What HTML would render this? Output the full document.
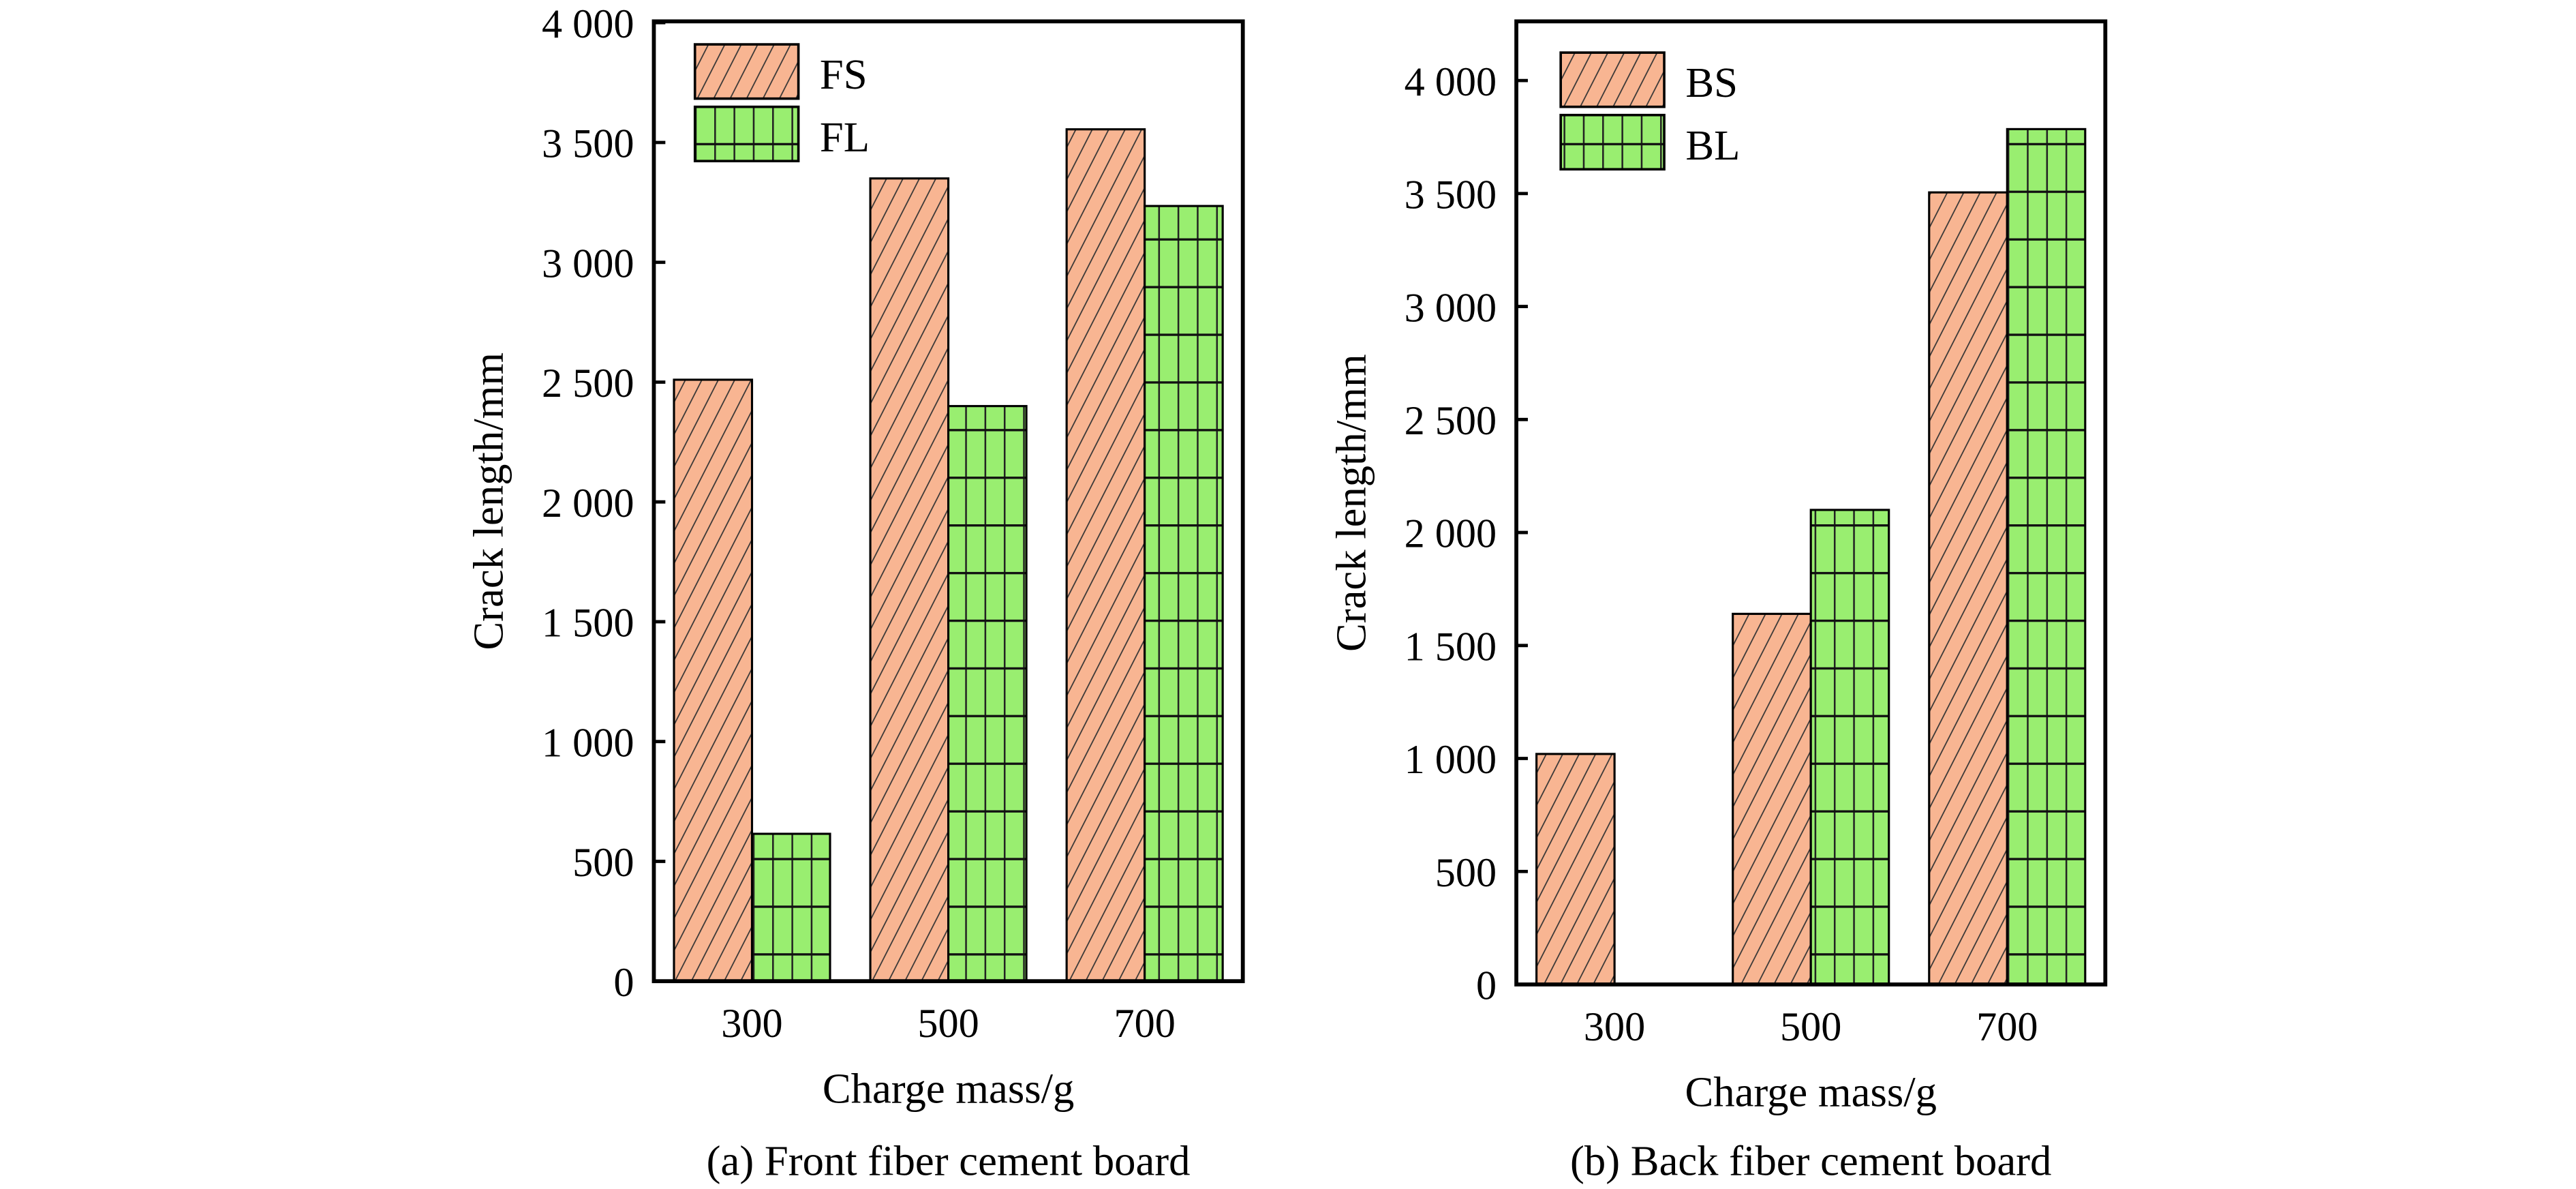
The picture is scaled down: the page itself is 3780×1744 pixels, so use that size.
<!DOCTYPE html>
<html><head><meta charset="utf-8">
<style>
html,body{margin:0;padding:0;background:#fff;}
svg{display:block;}
text{font-family:"Liberation Serif",serif;fill:#000;}
</style></head>
<body>
<svg id="chart" width="3780" height="1744" viewBox="0 0 1568 723.45" preserveAspectRatio="none" xmlns="http://www.w3.org/2000/svg">
<defs>
<pattern id="hatch" patternUnits="userSpaceOnUse" width="10" height="20" patternTransform="skewX(-27)">
<rect width="10" height="20" fill="#F8B592"/>
<line x1="5" y1="0" x2="5" y2="20" stroke="#333" stroke-width="0.8"/>
</pattern>
<pattern id="grid" patternUnits="userSpaceOnUse" width="11.75" height="29">
<rect width="11.75" height="29" fill="#99EE70"/>
<line x1="0.5" y1="0" x2="0.5" y2="29" stroke="#222" stroke-width="1.1"/>
<line x1="0" y1="0.6" x2="11.75" y2="0.6" stroke="#111" stroke-width="1.6"/>
</pattern>
</defs>
<g id="root"></g>
</svg>
<script>
const categories = ["300","500","700"];
const frontS = [2510, 3350, 3555];
const frontL = [615, 2400, 3235];
const backS = [1020, 1640, 3505];
const backL = [0, 2100, 3785];
const yTicks = [0,500,1000,1500,2000,2500,3000,3500,4000];
const yTickLabels = ["0","500","1 000","1 500","2 000","2 500","3 000","3 500","4 000"];

const NS = "http://www.w3.org/2000/svg";
const root = document.getElementById('root');
function mk(tag, attrs, parent){const e=document.createElementNS(NS,tag);for(const k in attrs)e.setAttribute(k,attrs[k]);(parent||root).appendChild(e);return e;}

function panel(cfg){
  const g = mk('g',{});
  
  
  const y = v => cfg.y0 - (v/500)*cfg.step;
  const xc = i => cfg.left + cfg.bandW*(i+0.5);
  const bw = cfg.barW;
  cfg.s.forEach((v,i)=>{
    const r = mk('rect',{x:xc(i)-bw,y:y(v),width:bw,height:cfg.y0-y(v),fill:'url(#hatch)',stroke:'#000','stroke-width':1.3},g);
    
    
  });
  cfg.l.forEach((v,i)=>{
    if(v<=0) return;
    const r = mk('rect',{x:xc(i),y:y(v),width:bw,height:cfg.y0-y(v),fill:'url(#grid)',stroke:'#000','stroke-width':1.3},g);
    
    
  });
  const f = mk('rect',{x:cfg.left,y:cfg.top,width:cfg.bandW*3,height:cfg.y0-cfg.top,fill:'none',stroke:'#000','stroke-width':2.4},g);
  
  
  yTicks.forEach((t,i)=>{
    const yy=y(t);
    if(t>0){const tk=mk('line',{x1:cfg.left,x2:cfg.left+7,y1:yy,y2:yy,stroke:'#000','stroke-width':2},g);
    
    }
    const tl=mk('text',{x:cfg.left-12,y:yy+9,'text-anchor':'end','font-size':25},g);
    tl.textContent=yTickLabels[i];
    
    
  });
  categories.forEach((c,i)=>{
    const tl=mk('text',{x:xc(i),y:cfg.y0+34,'text-anchor':'middle','font-size':25},g);
    tl.textContent=c;
    
    
  });
  const xt=mk('text',{x:cfg.left+cfg.bandW*1.5,y:cfg.y0+74,'text-anchor':'middle','font-size':26},g);
  xt.textContent='Charge mass/g';
  
  
  const yt=mk('text',{x:0,y:0,'text-anchor':'middle','font-size':26,transform:`translate(${cfg.left-92},${cfg.top+(cfg.y0-cfg.top)/2}) rotate(-90)`},g);
  yt.textContent='Crack length/mm';
  
  
  const cap=mk('text',{x:cfg.left+cfg.bandW*1.5,y:715,'text-anchor':'middle','font-size':26},g);
  cap.textContent=cfg.caption;
  
  
  const lx=cfg.legX, ly=cfg.legY;
  const l1=mk('rect',{x:lx,y:ly,width:63,height:33,fill:'url(#hatch)',stroke:'#000','stroke-width':1.5},g);
  
  
  const l2=mk('rect',{x:lx,y:ly+38,width:63,height:33,fill:'url(#grid)',stroke:'#000','stroke-width':1.5},g);
  
  
  const t1=mk('text',{x:lx+76,y:ly+27,'font-size':26},g);
  t1.textContent=cfg.sName;
  
  
  const t2=mk('text',{x:lx+76,y:ly+65,'font-size':26},g);
  t2.textContent=cfg.lName;
  
  
}
panel({name:'front-panel',left:398,bandW:119.5,barW:47.5,top:13,y0:597,step:72.9,s:frontS,l:frontL,sName:'FS',lName:'FL',caption:'(a) Front fiber cement board',legX:423,legY:27});
panel({name:'back-panel',left:923,bandW:119.5,barW:47.5,top:13,y0:599,step:68.75,s:backS,l:backL,sName:'BS',lName:'BL',caption:'(b) Back fiber cement board',legX:950,legY:32});
</script>
</body></html>
